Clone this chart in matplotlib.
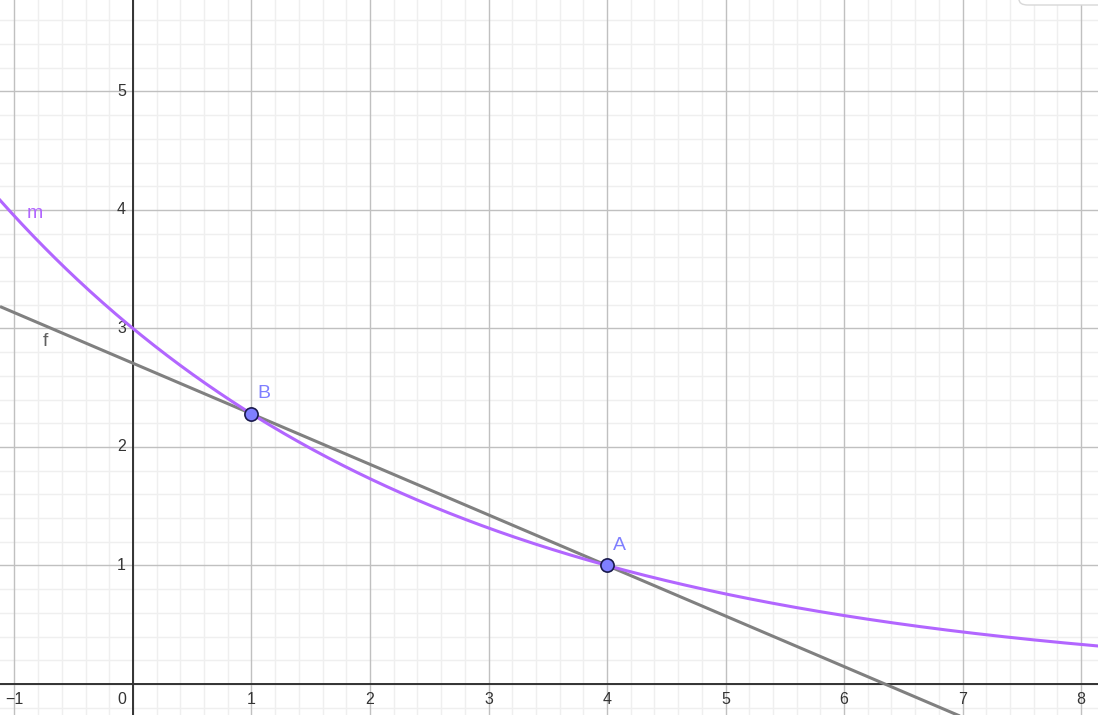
import numpy as np
import matplotlib
matplotlib.use("Agg")
import matplotlib.pyplot as plt
from matplotlib.patches import FancyBboxPatch

plt.rcParams['font.family'] = ['Liberation Sans', 'DejaVu Sans']

# Data
point_names = ["A", "B"]
point_x = [4, 1]
point_y = [1.0, 2.28]
m_intercept = 3.0          # m(0)
x_ticks = [-1, 0, 1, 2, 3, 4, 5, 6, 7, 8]
y_ticks = [1, 2, 3, 4, 5]

xmin, xmax = -1.122, 8.143
ymin, ymax = -0.262, 5.772

# curve m: exponential through (0, m_intercept) and A
base = (point_y[0] / m_intercept) ** (1 / point_x[0])
xs = np.linspace(xmin, xmax, 600)
m_vals = m_intercept * base ** xs
# line f through B and A
slope = (point_y[0] - point_y[1]) / (point_x[0] - point_x[1])
f_vals = point_y[0] + slope * (xs - point_x[0])

fig = plt.figure(figsize=(10.98, 7.15), dpi=100)
ax = fig.add_axes([0, 0, 1, 1])
ax.set_xlim(xmin, xmax)
ax.set_ylim(ymin, ymax)
for s in ax.spines.values():
    s.set_visible(False)
ax.set_xticks([])
ax.set_yticks([])

# grid
minor = np.arange(-2, 10, 0.2)
for v in minor:
    if abs(v - round(v)) > 1e-6:
        ax.axvline(v, color="#efefef", lw=1, zorder=0)
        ax.axhline(v, color="#efefef", lw=1, zorder=0)
for v in range(-2, 10):
    ax.axvline(v, color="#c0c0c0", lw=1, zorder=0.5)
    ax.axhline(v, color="#c0c0c0", lw=1, zorder=0.5)
ax.axvline(0, color="#333333", lw=1.4, zorder=1)
ax.axhline(0, color="#333333", lw=1.4, zorder=1)

# tick labels
fs = 11.5
for t in x_ticks:
    if t == 0:
        ax.text(-0.06, -0.07, "0", ha="right", va="top", fontsize=fs, color="#333333")
    else:
        lab = "\u2212" + str(-t) if t < 0 else str(t)
        ax.text(t, -0.07, lab, ha="center", va="top", fontsize=fs, color="#333333")
for t in y_ticks:
    ax.text(-0.06, t, str(t), ha="right", va="center", fontsize=fs, color="#333333")

# curves
ax.plot(xs, f_vals, color="#808080", lw=2.2, zorder=2, solid_capstyle="butt")
ax.plot(xs, m_vals, color="#b266ff", lw=2.2, zorder=3)
ax.text(-0.9, 3.9, "m", color="#b266ff", fontsize=14, ha="left", va="bottom")
ax.text(-0.76, 2.82, "f", color="#606060", fontsize=14, ha="left", va="bottom")

# points
ax.plot(point_x, point_y, "o", ms=9.5, mfc="#7f7fff", mec="#1a1a4d", mew=1.2, zorder=5)
for n, px, py in zip(point_names, point_x, point_y):
    ax.text(px + 0.05, py + 0.1, n, color="#7f7fff", fontsize=14, ha="left", va="bottom")

# partial UI box top-right
box = FancyBboxPatch((1019 / 1098, 1 - 5 / 715), 0.2, 0.1,
                     boxstyle="round,pad=0,rounding_size=0.008",
                     transform=fig.transFigure, facecolor="white",
                     edgecolor="#d8d8d8", lw=1, zorder=10, clip_on=False)
fig.patches.append(box)

fig.savefig("out.png", dpi=100)
